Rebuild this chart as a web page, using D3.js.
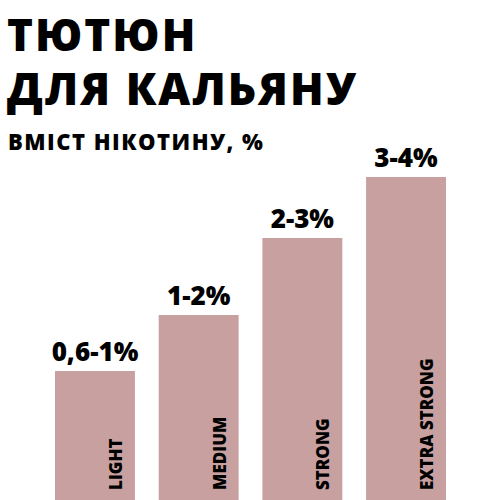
<!DOCTYPE html>
<html><head><meta charset="utf-8">
<script src="https://cdn.jsdelivr.net/npm/d3@7"></script>
<style>body{margin:0;background:#fff}text{font-family:"Open Sans",sans-serif;font-weight:800;fill:#000}</style>
</head><body><svg width="500" height="500"></svg>
<script>
const categories=["LIGHT","MEDIUM","STRONG","EXTRA STRONG"];
const valueLabels=["0,6-1%","1-2%","2-3%","3-4%"];
const values=[1.29,1.85,2.62,3.23];
const svg=d3.select("svg");
const x=d3.scaleBand().domain(categories).range([55,446]).paddingInner(0.229).paddingOuter(0);
const y=d3.scaleLinear().domain([0,5]).range([500,0]);
svg.append("text").attr("x",7).attr("y",51).attr("font-size",44).attr("letter-spacing",2).text("ТЮТЮН");
svg.append("text").attr("x",7).attr("y",105).attr("font-size",44).attr("letter-spacing",2).text("ДЛЯ КАЛЬЯНУ");
svg.append("text").attr("x",8).attr("y",150).attr("font-size",22).attr("letter-spacing",1.5).text("ВМІСТ НІКОТИНУ, %");
const g=svg.selectAll("g.b").data(categories).join("g");
g.append("rect").attr("x",d=>x(d)).attr("width",x.bandwidth()).attr("y",(d,i)=>y(values[i])).attr("height",(d,i)=>500-y(values[i])).attr("fill","#c9a0a0");
g.append("text").attr("x",d=>x(d)+x.bandwidth()/2).attr("y",(d,i)=>y(values[i])-10).attr("text-anchor","middle").attr("font-size",26).text((d,i)=>valueLabels[i]);
g.append("text").attr("transform",d=>`translate(${x(d)+x.bandwidth()-13},490) rotate(-90)`).attr("font-size",17).text(d=>d);
</script></body></html>
